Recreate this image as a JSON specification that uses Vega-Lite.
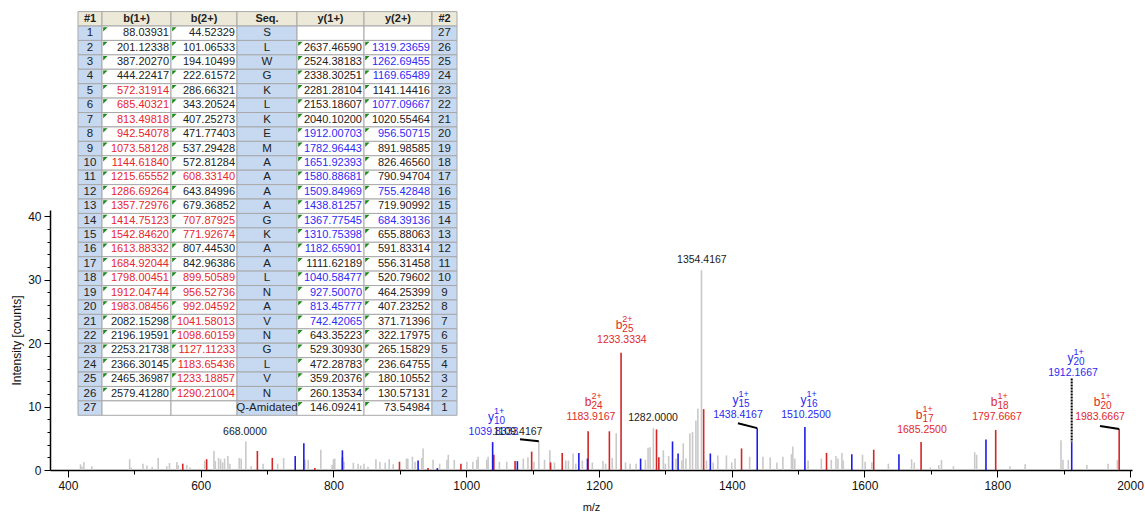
{
"$schema":"https://vega.github.io/schema/vega-lite/v6.json",
"autosize":{"type":"none"},
"width":1082,"height":260,
"padding":{"left":50,"top":210,"right":13,"bottom":50},
"background":"white",
"config":{"view":{"stroke":null},"font":"'Liberation Sans', Arial, sans-serif","axis":{"labelOverlap":false}},
"datasets":{
"peaks":[
{"mz":419,"h":0.9,"ion":"n"},{"mz":421,"h":0.5,"ion":"n"},{"mz":424,"h":1.25,"ion":"n"},{"mz":436,"h":0.6,"ion":"n"},{"mz":493,"h":1.7,"ion":"n"},{"mz":495,"h":0.4,"ion":"n"},{"mz":513,"h":1.0,"ion":"n"},{"mz":519,"h":0.7,"ion":"n"},{"mz":527,"h":0.5,"ion":"n"},{"mz":536,"h":1.9,"ion":"n"},{"mz":549,"h":0.6,"ion":"n"},{"mz":553,"h":1.1,"ion":"n"},{"mz":564,"h":1.25,"ion":"n"},{"mz":566,"h":0.8,"ion":"n"},{"mz":579,"h":0.8,"ion":"n"},{"mz":584,"h":0.4,"ion":"n"},{"mz":606,"h":1.5,"ion":"n"},{"mz":620,"h":3.0,"ion":"n"},{"mz":622,"h":1.4,"ion":"n"},{"mz":627,"h":1.9,"ion":"n"},{"mz":630,"h":1.7,"ion":"n"},{"mz":633,"h":1.2,"ion":"n"},{"mz":636,"h":1.8,"ion":"n"},{"mz":641,"h":2.2,"ion":"n"},{"mz":644,"h":1.0,"ion":"n"},{"mz":658,"h":1.9,"ion":"n"},{"mz":661,"h":1.8,"ion":"n"},{"mz":668,"h":4.5,"ion":"n"},{"mz":676,"h":0.6,"ion":"n"},{"mz":694,"h":1.0,"ion":"n"},{"mz":716,"h":1.0,"ion":"n"},{"mz":725,"h":1.9,"ion":"n"},{"mz":757,"h":1.6,"ion":"n"},{"mz":762,"h":1.6,"ion":"n"},{"mz":781,"h":3.2,"ion":"n"},{"mz":798,"h":0.8,"ion":"n"},{"mz":800,"h":1.7,"ion":"n"},{"mz":802,"h":1.8,"ion":"n"},{"mz":816,"h":1.3,"ion":"n"},{"mz":830,"h":1.15,"ion":"n"},{"mz":837,"h":1.0,"ion":"n"},{"mz":841,"h":0.7,"ion":"n"},{"mz":846,"h":1.0,"ion":"n"},{"mz":852,"h":0.5,"ion":"n"},{"mz":864,"h":1.7,"ion":"n"},{"mz":870,"h":1.3,"ion":"n"},{"mz":878,"h":1.15,"ion":"n"},{"mz":884,"h":1.7,"ion":"n"},{"mz":890,"h":0.9,"ion":"n"},{"mz":910,"h":1.8,"ion":"n"},{"mz":912,"h":1.8,"ion":"n"},{"mz":919,"h":2.1,"ion":"n"},{"mz":923,"h":1.3,"ion":"n"},{"mz":933,"h":1.9,"ion":"n"},{"mz":935,"h":3.4,"ion":"n"},{"mz":950,"h":1.6,"ion":"n"},{"mz":960,"h":1.0,"ion":"n"},{"mz":971,"h":1.6,"ion":"n"},{"mz":973,"h":2.4,"ion":"n"},{"mz":982,"h":1.6,"ion":"n"},{"mz":1001,"h":1.3,"ion":"n"},{"mz":1010,"h":1.3,"ion":"n"},{"mz":1016,"h":1.6,"ion":"n"},{"mz":1018,"h":2.1,"ion":"n"},{"mz":1031,"h":1.6,"ion":"n"},{"mz":1033,"h":2.1,"ion":"n"},{"mz":1050,"h":1.3,"ion":"n"},{"mz":1061,"h":1.3,"ion":"n"},{"mz":1086,"h":1.8,"ion":"n"},{"mz":1093,"h":2.0,"ion":"n"},{"mz":1102,"h":1.3,"ion":"n"},{"mz":1109.4,"h":4.55,"ion":"n"},{"mz":1118,"h":1.6,"ion":"n"},{"mz":1126,"h":3.1,"ion":"n"},{"mz":1133,"h":1.2,"ion":"n"},{"mz":1150,"h":1.5,"ion":"n"},{"mz":1154,"h":1.5,"ion":"n"},{"mz":1161,"h":2.6,"ion":"n"},{"mz":1165,"h":1.0,"ion":"n"},{"mz":1175,"h":1.5,"ion":"n"},{"mz":1190,"h":1.2,"ion":"n"},{"mz":1206,"h":1.4,"ion":"n"},{"mz":1210,"h":1.0,"ion":"n"},{"mz":1220,"h":1.9,"ion":"n"},{"mz":1226,"h":5.8,"ion":"n"},{"mz":1240,"h":1.2,"ion":"n"},{"mz":1247,"h":1.0,"ion":"n"},{"mz":1256,"h":1.0,"ion":"n"},{"mz":1270,"h":1.6,"ion":"n"},{"mz":1274,"h":3.5,"ion":"n"},{"mz":1277,"h":3.6,"ion":"n"},{"mz":1282,"h":6.6,"ion":"n"},{"mz":1297,"h":3.1,"ion":"n"},{"mz":1300,"h":1.0,"ion":"n"},{"mz":1305,"h":2.2,"ion":"n"},{"mz":1316,"h":1.8,"ion":"n"},{"mz":1325,"h":1.5,"ion":"n"},{"mz":1327,"h":4.2,"ion":"n"},{"mz":1331,"h":1.8,"ion":"n"},{"mz":1337,"h":5.8,"ion":"n"},{"mz":1341,"h":6.0,"ion":"n"},{"mz":1346,"h":7.8,"ion":"n"},{"mz":1349,"h":9.7,"ion":"n"},{"mz":1354.42,"h":31.5,"ion":"n"},{"mz":1362,"h":1.5,"ion":"n"},{"mz":1372,"h":1.2,"ion":"n"},{"mz":1379,"h":2.3,"ion":"n"},{"mz":1392,"h":2.3,"ion":"n"},{"mz":1400,"h":1.2,"ion":"n"},{"mz":1405,"h":1.8,"ion":"n"},{"mz":1427,"h":2.1,"ion":"n"},{"mz":1447,"h":2.1,"ion":"n"},{"mz":1458,"h":2.0,"ion":"n"},{"mz":1468,"h":1.2,"ion":"n"},{"mz":1477,"h":2.1,"ion":"n"},{"mz":1490,"h":2.5,"ion":"n"},{"mz":1492,"h":3.7,"ion":"n"},{"mz":1495,"h":1.8,"ion":"n"},{"mz":1515,"h":1.5,"ion":"n"},{"mz":1535,"h":1.8,"ion":"n"},{"mz":1550,"h":1.6,"ion":"n"},{"mz":1557,"h":2.2,"ion":"n"},{"mz":1560,"h":1.8,"ion":"n"},{"mz":1566,"h":2.7,"ion":"n"},{"mz":1568,"h":1.5,"ion":"n"},{"mz":1597,"h":2.4,"ion":"n"},{"mz":1601,"h":1.3,"ion":"n"},{"mz":1611,"h":1.2,"ion":"n"},{"mz":1636,"h":1.0,"ion":"n"},{"mz":1671,"h":1.7,"ion":"n"},{"mz":1675,"h":1.2,"ion":"n"},{"mz":1699,"h":0.4,"ion":"n"},{"mz":1712,"h":0.8,"ion":"n"},{"mz":1716,"h":1.6,"ion":"n"},{"mz":1734,"h":0.6,"ion":"n"},{"mz":1766,"h":2.8,"ion":"n"},{"mz":1769,"h":2.4,"ion":"n"},{"mz":1819,"h":0.6,"ion":"n"},{"mz":1842,"h":0.9,"ion":"n"},{"mz":1896,"h":4.7,"ion":"n"},{"mz":1899,"h":1.6,"ion":"n"},{"mz":1907,"h":1.6,"ion":"n"},{"mz":1935,"h":0.8,"ion":"n"},{"mz":1967,"h":1.0,"ion":"n"},{"mz":1981,"h":1.6,"ion":"n"},
{"mz":573,"h":1.0,"ion":"b"},{"mz":609,"h":1.7,"ion":"b"},{"mz":685.4,"h":3.0,"ion":"b"},{"mz":707.9,"h":1.9,"ion":"b"},{"mz":772,"h":0.3,"ion":"b"},{"mz":813.5,"h":2.0,"ion":"b"},{"mz":899.5,"h":1.3,"ion":"b"},{"mz":942.5,"h":0.3,"ion":"b"},{"mz":992,"h":1.0,"ion":"b"},{"mz":1041.6,"h":2.4,"ion":"b"},{"mz":1073.6,"h":1.4,"ion":"b"},{"mz":1098.6,"h":2.9,"ion":"b"},{"mz":1127.1,"h":1.2,"ion":"b"},{"mz":1144.6,"h":2.7,"ion":"b"},{"mz":1183.7,"h":6.1,"ion":"b"},{"mz":1215.7,"h":6.1,"ion":"b"},{"mz":1233.3,"h":18.5,"ion":"b"},{"mz":1286.7,"h":6.4,"ion":"b"},{"mz":1290.2,"h":2.0,"ion":"b"},{"mz":1357.7,"h":9.6,"ion":"b"},{"mz":1414.8,"h":3.4,"ion":"b"},{"mz":1542.8,"h":2.7,"ion":"b"},{"mz":1613.9,"h":3.2,"ion":"b"},{"mz":1685.25,"h":4.4,"ion":"b"},{"mz":1797.67,"h":6.3,"ion":"b"},{"mz":1983.67,"h":6.45,"ion":"b"},
{"mz":742.4,"h":2.2,"ion":"y"},{"mz":755.4,"h":4.2,"ion":"y"},{"mz":813.5,"h":3.1,"ion":"y"},{"mz":927.5,"h":1.5,"ion":"y"},{"mz":956.5,"h":0.3,"ion":"y"},{"mz":1039.83,"h":4.4,"ion":"y"},{"mz":1077.1,"h":1.4,"ion":"y"},{"mz":1169.7,"h":2.7,"ion":"y"},{"mz":1182.7,"h":1.8,"ion":"y"},{"mz":1262.7,"h":1.8,"ion":"y"},{"mz":1310.8,"h":4.5,"ion":"y"},{"mz":1319.2,"h":2.6,"ion":"y"},{"mz":1367.8,"h":2.6,"ion":"y"},{"mz":1438.42,"h":6.6,"ion":"y"},{"mz":1510.25,"h":6.8,"ion":"y"},{"mz":1580.9,"h":2.5,"ion":"y"},{"mz":1651.9,"h":2.5,"ion":"y"},{"mz":1783,"h":4.8,"ion":"y"},{"mz":1912.17,"h":4.4,"ion":"y"}
],
"labels":[
{"lx":666.7,"ly":5.96,"txt":"668.0000","ion":"n","chg":"","idx":""},
{"lx":1041,"ly":5.96,"txt":"1039.8333","ion":"y","chg":"1+","idx":"10"},
{"lx":1078,"ly":5.96,"txt":"1109.4167","ion":"n","chg":"","idx":""},
{"lx":1188,"ly":8.31,"txt":"1183.9167","ion":"b","chg":"2+","idx":"24"},
{"lx":1234.5,"ly":20.55,"txt":"1233.3334","ion":"b","chg":"2+","idx":"25"},
{"lx":1355,"ly":33.1,"txt":"1354.4167","ion":"n","chg":"","idx":""},
{"lx":1281.4,"ly":8.16,"txt":"1282.0000","ion":"n","chg":"","idx":""},
{"lx":1409.4,"ly":8.6,"txt":"1438.4167","ion":"y","chg":"1+","idx":"15"},
{"lx":1511.9,"ly":8.6,"txt":"1510.2500","ion":"y","chg":"1+","idx":"16"},
{"lx":1686.6,"ly":6.27,"txt":"1685.2500","ion":"b","chg":"1+","idx":"17"},
{"lx":1799.6,"ly":8.31,"txt":"1797.6667","ion":"b","chg":"1+","idx":"18"},
{"lx":1914.1,"ly":15.37,"txt":"1912.1667","ion":"y","chg":"1+","idx":"20"},
{"lx":1954.8,"ly":8.31,"txt":"1983.6667","ion":"b","chg":"1+","idx":"20"}
],
"links":[
{"x1":1081,"y1":4.86,"x2":1109.4,"y2":4.55,"dot":0},
{"x1":1409.4,"y1":7.37,"x2":1438.42,"y2":6.6,"dot":0},
{"x1":1954.8,"y1":6.95,"x2":1983.67,"y2":6.45,"dot":0},
{"x1":1912.17,"y1":14.43,"x2":1912.17,"y2":4.4,"dot":1}
],
"table":[
{"n1":"#1","b1":"b(1+)","b1m":0,"b2":"b(2+)","b2m":0,"sq":"Seq.","y1":"y(1+)","y1m":0,"y2":"y(2+)","y2m":0,"n2":"#2"},
{"n1":"1","b1":"88.03931","b1m":0,"b2":"44.52329","b2m":0,"sq":"S","y1":"","y1m":0,"y2":"","y2m":0,"n2":"27"},
{"n1":"2","b1":"201.12338","b1m":0,"b2":"101.06533","b2m":0,"sq":"L","y1":"2637.46590","y1m":0,"y2":"1319.23659","y2m":1,"n2":"26"},
{"n1":"3","b1":"387.20270","b1m":0,"b2":"194.10499","b2m":0,"sq":"W","y1":"2524.38183","y1m":0,"y2":"1262.69455","y2m":1,"n2":"25"},
{"n1":"4","b1":"444.22417","b1m":0,"b2":"222.61572","b2m":0,"sq":"G","y1":"2338.30251","y1m":0,"y2":"1169.65489","y2m":1,"n2":"24"},
{"n1":"5","b1":"572.31914","b1m":1,"b2":"286.66321","b2m":0,"sq":"K","y1":"2281.28104","y1m":0,"y2":"1141.14416","y2m":0,"n2":"23"},
{"n1":"6","b1":"685.40321","b1m":1,"b2":"343.20524","b2m":0,"sq":"L","y1":"2153.18607","y1m":0,"y2":"1077.09667","y2m":1,"n2":"22"},
{"n1":"7","b1":"813.49818","b1m":1,"b2":"407.25273","b2m":0,"sq":"K","y1":"2040.10200","y1m":0,"y2":"1020.55464","y2m":0,"n2":"21"},
{"n1":"8","b1":"942.54078","b1m":1,"b2":"471.77403","b2m":0,"sq":"E","y1":"1912.00703","y1m":1,"y2":"956.50715","y2m":1,"n2":"20"},
{"n1":"9","b1":"1073.58128","b1m":1,"b2":"537.29428","b2m":0,"sq":"M","y1":"1782.96443","y1m":1,"y2":"891.98585","y2m":0,"n2":"19"},
{"n1":"10","b1":"1144.61840","b1m":1,"b2":"572.81284","b2m":0,"sq":"A","y1":"1651.92393","y1m":1,"y2":"826.46560","y2m":0,"n2":"18"},
{"n1":"11","b1":"1215.65552","b1m":1,"b2":"608.33140","b2m":1,"sq":"A","y1":"1580.88681","y1m":1,"y2":"790.94704","y2m":0,"n2":"17"},
{"n1":"12","b1":"1286.69264","b1m":1,"b2":"643.84996","b2m":0,"sq":"A","y1":"1509.84969","y1m":1,"y2":"755.42848","y2m":1,"n2":"16"},
{"n1":"13","b1":"1357.72976","b1m":1,"b2":"679.36852","b2m":0,"sq":"A","y1":"1438.81257","y1m":1,"y2":"719.90992","y2m":0,"n2":"15"},
{"n1":"14","b1":"1414.75123","b1m":1,"b2":"707.87925","b2m":1,"sq":"G","y1":"1367.77545","y1m":1,"y2":"684.39136","y2m":1,"n2":"14"},
{"n1":"15","b1":"1542.84620","b1m":1,"b2":"771.92674","b2m":1,"sq":"K","y1":"1310.75398","y1m":1,"y2":"655.88063","y2m":0,"n2":"13"},
{"n1":"16","b1":"1613.88332","b1m":1,"b2":"807.44530","b2m":0,"sq":"A","y1":"1182.65901","y1m":1,"y2":"591.83314","y2m":0,"n2":"12"},
{"n1":"17","b1":"1684.92044","b1m":1,"b2":"842.96386","b2m":0,"sq":"A","y1":"1111.62189","y1m":0,"y2":"556.31458","y2m":0,"n2":"11"},
{"n1":"18","b1":"1798.00451","b1m":1,"b2":"899.50589","b2m":1,"sq":"L","y1":"1040.58477","y1m":1,"y2":"520.79602","y2m":0,"n2":"10"},
{"n1":"19","b1":"1912.04744","b1m":1,"b2":"956.52736","b2m":1,"sq":"N","y1":"927.50070","y1m":1,"y2":"464.25399","y2m":0,"n2":"9"},
{"n1":"20","b1":"1983.08456","b1m":1,"b2":"992.04592","b2m":1,"sq":"A","y1":"813.45777","y1m":1,"y2":"407.23252","y2m":0,"n2":"8"},
{"n1":"21","b1":"2082.15298","b1m":0,"b2":"1041.58013","b2m":1,"sq":"V","y1":"742.42065","y1m":1,"y2":"371.71396","y2m":0,"n2":"7"},
{"n1":"22","b1":"2196.19591","b1m":0,"b2":"1098.60159","b2m":1,"sq":"N","y1":"643.35223","y1m":0,"y2":"322.17975","y2m":0,"n2":"6"},
{"n1":"23","b1":"2253.21738","b1m":0,"b2":"1127.11233","b2m":1,"sq":"G","y1":"529.30930","y1m":0,"y2":"265.15829","y2m":0,"n2":"5"},
{"n1":"24","b1":"2366.30145","b1m":0,"b2":"1183.65436","b2m":1,"sq":"L","y1":"472.28783","y1m":0,"y2":"236.64755","y2m":0,"n2":"4"},
{"n1":"25","b1":"2465.36987","b1m":0,"b2":"1233.18857","b2m":1,"sq":"V","y1":"359.20376","y1m":0,"y2":"180.10552","y2m":0,"n2":"3"},
{"n1":"26","b1":"2579.41280","b1m":0,"b2":"1290.21004","b2m":1,"sq":"N","y1":"260.13534","y1m":0,"y2":"130.57131","y2m":0,"n2":"2"},
{"n1":"27","b1":"","b1m":0,"b2":"","b2m":0,"sq":"Q-Amidated","y1":"146.09241","y1m":0,"y2":"73.54984","y2m":0,"n2":"1"}
]
},
"resolve":{"scale":{"x":"independent","y":"independent"}},
"layer":[
{
"resolve":{"axis":{"y":"independent"}},
"layer":[
{"data":{"name":"peaks"},
"mark":{"type":"rule","strokeWidth":1.6},
"encoding":{
"x":{"field":"mz","type":"quantitative","title":"m/z","scale":{"domain":[373,2003],"nice":false,"zero":false},
"axis":{"values":[400,450,500,550,600,650,700,750,800,850,900,950,1000,1050,1100,1150,1200,1250,1300,1350,1400,1450,1500,1550,1600,1650,1700,1750,1800,1850,1900,1950,2000],"format":"d","labelExpr":"datum.value % 200 === 0 ? datum.label : ''","tickSize":{"condition":{"test":"datum.value % 200 === 0","value":7},"value":4},"grid":false,"domainColor":"#000","domainWidth":1.5,"tickColor":"#000","labelColor":"#111","labelFontSize":12,"titleFontSize":11,"titleFontWeight":"normal","titleColor":"#111","labelPadding":3,"titlePadding":10,"labelOverlap":false,"labelFlush":false}},
"y":{"field":"h","type":"quantitative","title":"Intensity [counts]","scale":{"domain":[0,41],"nice":false,"zero":true},
"axis":{"orient":"left","values":[0,10,20,30,40],"tickSize":6,"grid":false,"domainColor":"#000","domainWidth":1.5,"tickColor":"#000","labelColor":"#111","labelFontSize":12,"titleFontSize":12,"titleFontWeight":"normal","titleColor":"#111","labelPadding":3,"titlePadding":4,"labelOverlap":false,"labelFlush":false}},
"y2":{"datum":0},
"color":{"field":"ion","type":"nominal","scale":{"domain":["n","b","y"],"range":["#c9c9c9","#d42626","#1c1ce6"]},"legend":null}
}},
{"data":{"name":"links"},"transform":[{"filter":"datum.dot === 0"}],
"mark":{"type":"rule","color":"#000","strokeWidth":2},
"encoding":{"x":{"field":"x1","type":"quantitative","title":"m/z"},"y":{"field":"y1","type":"quantitative","title":"Intensity [counts]",
"axis":{"orient":"left","values":[2,4,6,8,12,14,16,18,22,24,26,28,32,34,36,38],"labels":false,"domain":false,"grid":false,"tickSize":3,"tickColor":"#000","title":null}},"x2":{"field":"x2"},"y2":{"field":"y2"}}},
{"data":{"name":"links"},"transform":[{"filter":"datum.dot === 1"}],
"mark":{"type":"rule","color":"#000","strokeWidth":2,"strokeDash":[2,1]},
"encoding":{"x":{"field":"x1","type":"quantitative","title":"m/z"},"y":{"field":"y1","type":"quantitative","axis":null},"x2":{"field":"x2"},"y2":{"field":"y2"}}},
{"data":{"name":"labels"},
"mark":{"type":"text","fontSize":10.5,"align":"center","baseline":"middle"},
"encoding":{"x":{"field":"lx","type":"quantitative","title":"m/z"},"y":{"field":"ly","type":"quantitative","axis":null},"text":{"field":"txt"},
"color":{"condition":[{"test":"datum.ion === 'b'","value":"#e02a2a"},{"test":"datum.ion === 'y'","value":"#2a2af0"}],"value":"#1a1a1a"}}},
{"data":{"name":"labels"},"transform":[{"filter":"datum.ion !== 'n'"}],
"mark":{"type":"text","fontSize":12,"align":"right","baseline":"middle","dx":0.5,"dy":-15},
"encoding":{"x":{"field":"lx","type":"quantitative","title":"m/z"},"y":{"field":"ly","type":"quantitative","axis":null},"text":{"field":"ion"},
"color":{"condition":[{"test":"datum.ion === 'b'","value":"#e02a2a"}],"value":"#2a2af0"}}},
{"data":{"name":"labels"},"transform":[{"filter":"datum.ion !== 'n'"}],
"mark":{"type":"text","fontSize":9,"align":"left","baseline":"middle","dx":0.5,"dy":-21},
"encoding":{"x":{"field":"lx","type":"quantitative","title":"m/z"},"y":{"field":"ly","type":"quantitative","axis":null},"text":{"field":"chg"},
"color":{"condition":[{"test":"datum.ion === 'b'","value":"#e02a2a"}],"value":"#2a2af0"}}},
{"data":{"name":"labels"},"transform":[{"filter":"datum.ion !== 'n'"}],
"mark":{"type":"text","fontSize":10,"align":"left","baseline":"middle","dx":0.5,"dy":-11},
"encoding":{"x":{"field":"lx","type":"quantitative","title":"m/z"},"y":{"field":"ly","type":"quantitative","axis":null},"text":{"field":"idx"},
"color":{"condition":[{"test":"datum.ion === 'b'","value":"#e02a2a"}],"value":"#2a2af0"}}}
]
},
{
"data":{"name":"table"},
"layer":[
{"mark":{"type":"rect","stroke":"#a8a8a8","strokeWidth":1},"encoding":{"x":{"datum":0,"type":"quantitative","scale":{"type":"linear","domain":[0,1,2,3,4,5,6,7],"range":[28,52,121,187,247,314,382,407],"nice":false,"zero":false},"axis":null},"x2":{"datum":1},"y":{"field":"n1","type":"ordinal","scale":{"type":"band","domain":["#1","1","2","3","4","5","6","7","8","9","10","11","12","13","14","15","16","17","18","19","20","21","22","23","24","25","26","27"],"range":[-198.4,205.3],"paddingInner":0,"paddingOuter":0},"axis":null},"fill":{"condition":{"test":"datum.n1 === '#1'","value":"#ece9d8"},"value":"#c6d9f1"}}},
{"mark":{"type":"rect","stroke":"#a8a8a8","strokeWidth":1},"encoding":{"x":{"datum":1,"type":"quantitative","scale":{"type":"linear","domain":[0,1,2,3,4,5,6,7],"range":[28,52,121,187,247,314,382,407],"nice":false,"zero":false},"axis":null},"x2":{"datum":2},"y":{"field":"n1","type":"ordinal","axis":null},"fill":{"condition":{"test":"datum.n1 === '#1'","value":"#ece9d8"},"value":"#ffffff"}}},
{"mark":{"type":"rect","stroke":"#a8a8a8","strokeWidth":1},"encoding":{"x":{"datum":2,"type":"quantitative","scale":{"type":"linear","domain":[0,1,2,3,4,5,6,7],"range":[28,52,121,187,247,314,382,407],"nice":false,"zero":false},"axis":null},"x2":{"datum":3},"y":{"field":"n1","type":"ordinal","axis":null},"fill":{"condition":{"test":"datum.n1 === '#1'","value":"#ece9d8"},"value":"#ffffff"}}},
{"mark":{"type":"rect","stroke":"#a8a8a8","strokeWidth":1},"encoding":{"x":{"datum":3,"type":"quantitative","scale":{"type":"linear","domain":[0,1,2,3,4,5,6,7],"range":[28,52,121,187,247,314,382,407],"nice":false,"zero":false},"axis":null},"x2":{"datum":4},"y":{"field":"n1","type":"ordinal","axis":null},"fill":{"condition":{"test":"datum.n1 === '#1'","value":"#ece9d8"},"value":"#c6d9f1"}}},
{"mark":{"type":"rect","stroke":"#a8a8a8","strokeWidth":1},"encoding":{"x":{"datum":4,"type":"quantitative","scale":{"type":"linear","domain":[0,1,2,3,4,5,6,7],"range":[28,52,121,187,247,314,382,407],"nice":false,"zero":false},"axis":null},"x2":{"datum":5},"y":{"field":"n1","type":"ordinal","axis":null},"fill":{"condition":{"test":"datum.n1 === '#1'","value":"#ece9d8"},"value":"#ffffff"}}},
{"mark":{"type":"rect","stroke":"#a8a8a8","strokeWidth":1},"encoding":{"x":{"datum":5,"type":"quantitative","scale":{"type":"linear","domain":[0,1,2,3,4,5,6,7],"range":[28,52,121,187,247,314,382,407],"nice":false,"zero":false},"axis":null},"x2":{"datum":6},"y":{"field":"n1","type":"ordinal","axis":null},"fill":{"condition":{"test":"datum.n1 === '#1'","value":"#ece9d8"},"value":"#ffffff"}}},
{"mark":{"type":"rect","stroke":"#a8a8a8","strokeWidth":1},"encoding":{"x":{"datum":6,"type":"quantitative","scale":{"type":"linear","domain":[0,1,2,3,4,5,6,7],"range":[28,52,121,187,247,314,382,407],"nice":false,"zero":false},"axis":null},"x2":{"datum":7},"y":{"field":"n1","type":"ordinal","axis":null},"fill":{"condition":{"test":"datum.n1 === '#1'","value":"#ece9d8"},"value":"#c6d9f1"}}},
{"transform":[{"filter":"datum.n1 === '#1'"}],"mark":{"type":"text","fontSize":11,"fontWeight":"bold","align":"center","baseline":"middle","color":"#222"},"encoding":{"x":{"datum":0.5,"type":"quantitative","axis":null},"y":{"field":"n1","type":"ordinal","axis":null},"text":{"field":"n1"}}},
{"transform":[{"filter":"datum.n1 === '#1'"}],"mark":{"type":"text","fontSize":11,"fontWeight":"bold","align":"center","baseline":"middle","color":"#222"},"encoding":{"x":{"datum":1.5,"type":"quantitative","axis":null},"y":{"field":"n1","type":"ordinal","axis":null},"text":{"field":"b1"}}},
{"transform":[{"filter":"datum.n1 === '#1'"}],"mark":{"type":"text","fontSize":11,"fontWeight":"bold","align":"center","baseline":"middle","color":"#222"},"encoding":{"x":{"datum":2.5,"type":"quantitative","axis":null},"y":{"field":"n1","type":"ordinal","axis":null},"text":{"field":"b2"}}},
{"transform":[{"filter":"datum.n1 === '#1'"}],"mark":{"type":"text","fontSize":11,"fontWeight":"bold","align":"center","baseline":"middle","color":"#222"},"encoding":{"x":{"datum":3.5,"type":"quantitative","axis":null},"y":{"field":"n1","type":"ordinal","axis":null},"text":{"field":"sq"}}},
{"transform":[{"filter":"datum.n1 === '#1'"}],"mark":{"type":"text","fontSize":11,"fontWeight":"bold","align":"center","baseline":"middle","color":"#222"},"encoding":{"x":{"datum":4.5,"type":"quantitative","axis":null},"y":{"field":"n1","type":"ordinal","axis":null},"text":{"field":"y1"}}},
{"transform":[{"filter":"datum.n1 === '#1'"}],"mark":{"type":"text","fontSize":11,"fontWeight":"bold","align":"center","baseline":"middle","color":"#222"},"encoding":{"x":{"datum":5.5,"type":"quantitative","axis":null},"y":{"field":"n1","type":"ordinal","axis":null},"text":{"field":"y2"}}},
{"transform":[{"filter":"datum.n1 === '#1'"}],"mark":{"type":"text","fontSize":11,"fontWeight":"bold","align":"center","baseline":"middle","color":"#222"},"encoding":{"x":{"datum":6.5,"type":"quantitative","axis":null},"y":{"field":"n1","type":"ordinal","axis":null},"text":{"field":"n2"}}},
{"transform":[{"filter":"datum.n1 !== '#1'"}],"mark":{"type":"text","fontSize":11.5,"align":"center","baseline":"middle","color":"#222"},"encoding":{"x":{"datum":0.5,"type":"quantitative","axis":null},"y":{"field":"n1","type":"ordinal","axis":null},"text":{"field":"n1"}}},
{"transform":[{"filter":"datum.n1 !== '#1'"}],"mark":{"type":"text","fontSize":11,"align":"right","baseline":"middle","dx":-2},"encoding":{"x":{"datum":2,"type":"quantitative","axis":null},"y":{"field":"n1","type":"ordinal","axis":null},"text":{"field":"b1"},"color":{"condition":{"test":"datum.b1m","value":"#e8262b"},"value":"#222"}}},
{"transform":[{"filter":"datum.n1 !== '#1'"}],"mark":{"type":"text","fontSize":11,"align":"right","baseline":"middle","dx":-2},"encoding":{"x":{"datum":3,"type":"quantitative","axis":null},"y":{"field":"n1","type":"ordinal","axis":null},"text":{"field":"b2"},"color":{"condition":{"test":"datum.b2m","value":"#e8262b"},"value":"#222"}}},
{"transform":[{"filter":"datum.n1 !== '#1'"}],"mark":{"type":"text","fontSize":11.5,"align":"center","baseline":"middle","color":"#222"},"encoding":{"x":{"datum":3.5,"type":"quantitative","axis":null},"y":{"field":"n1","type":"ordinal","axis":null},"text":{"field":"sq"}}},
{"transform":[{"filter":"datum.n1 !== '#1'"}],"mark":{"type":"text","fontSize":11,"align":"right","baseline":"middle","dx":-2},"encoding":{"x":{"datum":5,"type":"quantitative","axis":null},"y":{"field":"n1","type":"ordinal","axis":null},"text":{"field":"y1"},"color":{"condition":{"test":"datum.y1m","value":"#2b2bf5"},"value":"#222"}}},
{"transform":[{"filter":"datum.n1 !== '#1'"}],"mark":{"type":"text","fontSize":11,"align":"right","baseline":"middle","dx":-2},"encoding":{"x":{"datum":6,"type":"quantitative","axis":null},"y":{"field":"n1","type":"ordinal","axis":null},"text":{"field":"y2"},"color":{"condition":{"test":"datum.y2m","value":"#2b2bf5"},"value":"#222"}}},
{"transform":[{"filter":"datum.n1 !== '#1'"}],"mark":{"type":"text","fontSize":11.5,"align":"center","baseline":"middle","color":"#222"},"encoding":{"x":{"datum":6.5,"type":"quantitative","axis":null},"y":{"field":"n1","type":"ordinal","axis":null},"text":{"field":"n2"}}},
{"transform":[{"filter":"datum.n1 !== '#1' && datum.b1 !== ''"}],"mark":{"type":"point","shape":"M 0.6 0.6 L 2.8 0.6 L 0.6 2.8 Z","size":16,"filled":true,"opacity":1,"color":"#1a8a1a"},"encoding":{"x":{"datum":1,"type":"quantitative","axis":null},"y":{"field":"n1","type":"ordinal","bandPosition":0,"axis":null}}},
{"transform":[{"filter":"datum.n1 !== '#1' && datum.b2 !== ''"}],"mark":{"type":"point","shape":"M 0.6 0.6 L 2.8 0.6 L 0.6 2.8 Z","size":16,"filled":true,"opacity":1,"color":"#1a8a1a"},"encoding":{"x":{"datum":2,"type":"quantitative","axis":null},"y":{"field":"n1","type":"ordinal","bandPosition":0,"axis":null}}},
{"transform":[{"filter":"datum.n1 !== '#1' && datum.y1 !== ''"}],"mark":{"type":"point","shape":"M 0.6 0.6 L 2.8 0.6 L 0.6 2.8 Z","size":16,"filled":true,"opacity":1,"color":"#1a8a1a"},"encoding":{"x":{"datum":4,"type":"quantitative","axis":null},"y":{"field":"n1","type":"ordinal","bandPosition":0,"axis":null}}},
{"transform":[{"filter":"datum.n1 !== '#1' && datum.y2 !== ''"}],"mark":{"type":"point","shape":"M 0.6 0.6 L 2.8 0.6 L 0.6 2.8 Z","size":16,"filled":true,"opacity":1,"color":"#1a8a1a"},"encoding":{"x":{"datum":5,"type":"quantitative","axis":null},"y":{"field":"n1","type":"ordinal","bandPosition":0,"axis":null}}}
]
}
]
}
